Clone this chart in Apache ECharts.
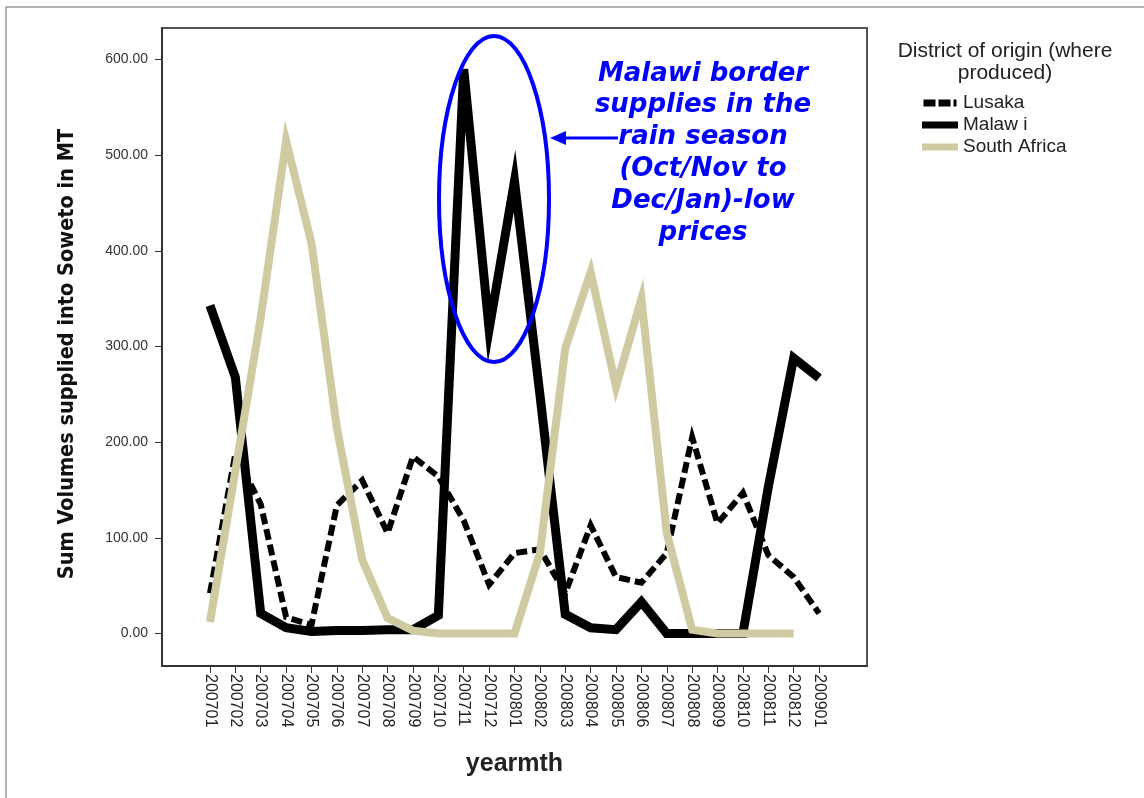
<!DOCTYPE html>
<html>
<head>
<meta charset="utf-8">
<script src="https://cdn.jsdelivr.net/npm/echarts@6/dist/echarts.min.js"></script>
<style>
	html, body {
		height: 100%;
		width: 100%;
		margin: 0;
		padding: 0;
		background: #fff;
	}
	#chartLineBox {
		width: 1144px;
		height: 798px;
	}
</style>
</head>
<body>
<div id="chartLineBox"></div>
<script>
	// 月份 (x轴)
	var months = ['200701', '200702', '200703', '200704', '200705', '200706', '200707', '200708', '200709',
		'200710', '200711', '200712', '200801', '200802', '200803', '200804', '200805', '200806', '200807',
		'200808', '200809', '200810', '200811', '200812', '200901'];
	var yTicks = [0, 100, 200, 300, 400, 500, 600];
	// 各产地供应量 (MT)
	var lusaka = [42, 188, 135, 17, 9, 134, 160, 105, 185, 164, 118, 51, 84, 88, 42, 113, 59, 53, 84, 205, 115, 147, 82, 59, 21];
	var malawi = [343, 268, 21, 6, 2, 3, 3, 4, 4, 19, 590, 318, 473, 250, 20, 6, 4, 33, 0, 0, 0, 0, 153, 288, 267];
	var southAfrica = [12, 170, 330, 515, 408, 215, 77, 16, 3, 0, 0, 0, 0, 84, 298, 378, 258, 350, 105, 4, 0, 0, 0, 0, null];

	function pairs(arr) {
		return arr.map(function (v, i) { return [i, v]; });
	}

	var chartLine = echarts.init(document.getElementById('chartLineBox'));
	var option = {
		animation: false,
		backgroundColor: '#fff',
		title: { //图例标题
			text: 'District of origin (where\nproduced)',
			left: 1000,
			top: 35,
			textAlign: 'center',
			textStyle: {
				fontFamily: 'Liberation Sans, Arial',
				fontWeight: 'normal',
				fontSize: 21,
				color: '#222',
				lineHeight: 22
			}
		},
		legend: {
			orient: 'vertical',
			left: 917,
			top: 87,
			itemWidth: 36,
			itemHeight: 7,
			itemGap: 0,
			itemStyle: { borderWidth: 0 },
			textStyle: {
				fontFamily: 'Liberation Sans, Arial',
				fontSize: 19,
				lineHeight: 22,
				color: '#222'
			},
			data: [
				{ name: 'Lusaka', icon: 'path://M0,0H12V7H0Z M15,0H27V7H15Z M30,0H33V7H30Z' },
				{ name: 'Malaw i', icon: 'rect' },
				{ name: 'South Africa', icon: 'rect' }
			]
		},
		grid: {
			left: 162,
			top: 28,
			width: 705,
			height: 638,
			show: true,
			borderColor: '#555',
			borderWidth: 2
		},
		xAxis: {
			type: 'value',
			min: -1.89,
			max: 25.89,
			name: 'yearmth',
			nameLocation: 'middle',
			nameGap: 86,
			nameTextStyle: {
				fontFamily: 'Liberation Sans, Arial',
				fontWeight: 'bold',
				fontSize: 25,
				color: '#222'
			},
			axisLine: { onZero: false, lineStyle: { color: '#333', width: 2 } },
			axisTick: {
				length: 7,
				customValues: months.map(function (m, i) { return i; }),
				lineStyle: { color: '#333' }
			},
			axisLabel: {
				customValues: months.map(function (m, i) { return i; }),
				rotate: -90,
				margin: 8,
				fontFamily: 'Liberation Sans, Arial',
				fontSize: 16,
				color: '#222',
				formatter: function (v) { return months[Math.round(v)]; }
			},
			splitLine: { show: false }
		},
		yAxis: {
			type: 'value',
			min: -34,
			max: 633,
			name: 'Sum Volumes supplied into Soweto in MT',
			nameLocation: 'middle',
			nameGap: 84,
			nameTextStyle: {
				fontFamily: 'Liberation Sans Narrow, DejaVu Sans Condensed, Arial',
				fontWeight: 'bold',
				fontSize: 21.5,
				color: '#111',
				padding: [0, 14, 0, 0]
			},
			axisLine: { show: true, onZero: false, lineStyle: { color: '#333', width: 2 } },
			axisTick: {
				show: true,
				length: 7,
				customValues: yTicks,
				lineStyle: { color: '#333' }
			},
			axisLabel: {
				customValues: yTicks,
				margin: 14,
				fontFamily: 'Liberation Sans, Arial',
				fontSize: 14,
				color: '#333',
				formatter: function (v) { return v.toFixed(2); }
			},
			splitLine: { show: false }
		},
		series: [{
				name: 'Lusaka',
				type: 'line',
				data: pairs(lusaka),
				symbol: 'none',
				color: '#000',
				lineStyle: { color: '#000', width: 6, type: [11, 5], cap: 'butt', join: 'miter' }
			},
			{
				name: 'Malaw i',
				type: 'line',
				data: pairs(malawi),
				symbol: 'none',
				color: '#000',
				lineStyle: { color: '#000', width: 9, join: 'miter' }
			},
			{
				name: 'South Africa',
				type: 'line',
				data: pairs(southAfrica),
				symbol: 'none',
				color: '#cfcaa2',
				lineStyle: { color: '#cfcaa2', width: 8, join: 'miter' }
			}
		],
		graphic: [
			{ // 外框
				type: 'polyline',
				silent: true,
				shape: { points: [[6, 798], [6, 7], [1144, 7]] },
				style: { stroke: '#999', lineWidth: 1.5, fill: null }
			},
			{ // 椭圆标注
				type: 'ellipse',
				shape: { cx: 494, cy: 199, rx: 55, ry: 163 },
				style: { stroke: '#0000ff', lineWidth: 4, fill: null },
				z: 100
			},
			{
				type: 'line',
				shape: { x1: 618, y1: 138, x2: 560, y2: 138 },
				style: { stroke: '#0000ff', lineWidth: 3 },
				z: 100
			},
			{
				type: 'polygon',
				shape: { points: [[550, 138], [566, 131], [566, 145]] },
				style: { fill: '#0000ff' },
				z: 100
			},
			{
				type: 'text',
				left: 703 - 150,
				top: 58,
				z: 100,
				style: {
					text: 'Malawi border\nsupplies in the\nrain season\n(Oct/Nov to\nDec/Jan)-low\nprices',
					x: 150,
					width: 300,
					textAlign: 'center',
					fill: '#0000ff',
					font: 'italic bold 26px "DejaVu Sans"',
					lineHeight: 31.8
				}
			}
		]
	};
	chartLine.setOption(option);
</script>
</body>
</html>
